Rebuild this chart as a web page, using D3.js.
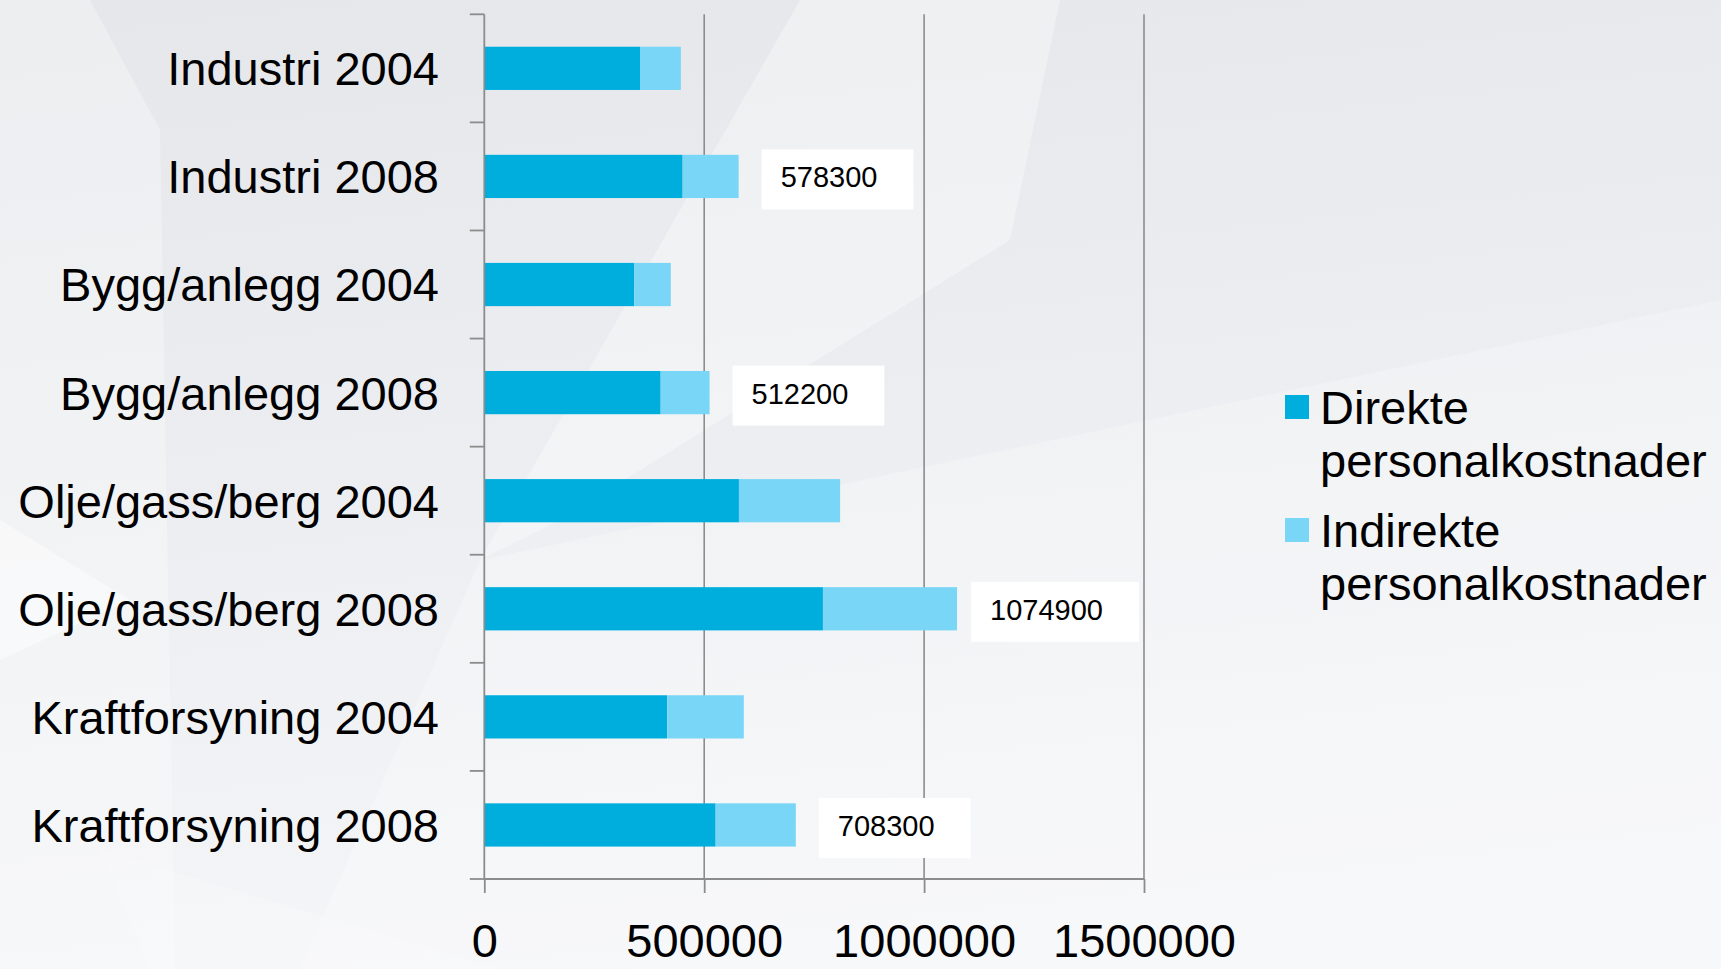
<!DOCTYPE html>
<html>
<head>
<meta charset="utf-8">
<script src="https://cdn.jsdelivr.net/npm/d3@7"></script>
<style>
  html, body { margin: 0; padding: 0; background: #eef0f2; overflow: hidden; }
  svg { display: block; font-family: "Liberation Sans", Arial, sans-serif; }
</style>
</head>
<body>
<svg id="chart" width="1721" height="969"></svg>
<script>
// ---- data ----
const categories = [
  "Industri 2004", "Industri 2008",
  "Bygg/anlegg 2004", "Bygg/anlegg 2008",
  "Olje/gass/berg 2004", "Olje/gass/berg 2008",
  "Kraftforsyning 2004", "Kraftforsyning 2008"
];
const direkte   = [354000, 451000, 341000, 401000, 579000, 770000, 416000, 526000];
const indirekte = [93000, 127300, 83000, 111200, 230000, 304900, 174000, 182300];
const labelled  = [false, true, false, true, false, true, false, true];
const seriesNames = ["Direkte personalkostnader", "Indirekte personalkostnader"];
const xTicks = [0, 500000, 1000000, 1500000];

// ---- setup ----
const W = 1721, H = 969;
const svg = d3.select("#chart");
const colors = ["#00aede", "#7ad6f6"];

// background
const defs = svg.append("defs");
const bg = defs.append("linearGradient").attr("id", "bg").attr("x1", 0.2).attr("y1", 0).attr("x2", 0.4).attr("y2", 1);
bg.append("stop").attr("offset", "0%").attr("stop-color", "#e5e7ea");
bg.append("stop").attr("offset", "50%").attr("stop-color", "#eceef1");
bg.append("stop").attr("offset", "100%").attr("stop-color", "#f5f6f8");
svg.append("rect").attr("width", W).attr("height", H).attr("fill", "url(#bg)");
const facets = [
  [[0,0],[90,0],[160,130],[175,969],[0,969]],
  [[800,0],[1060,0],[1010,240],[560,520],[480,560]],
  [[0,520],[130,600],[0,660]],
  [[480,560],[1721,300],[1721,969],[300,969]],
  [[100,850],[500,969],[150,969]]
];
const facetOp = [0.3, 0.35, 0.45, 0.25, 0.2];
svg.append("g").selectAll("polygon").data(facets).join("polygon")
  .attr("points", d => d.map(p => p.join(",")).join(" "))
  .attr("fill", "#ffffff")
  .attr("opacity", (d, i) => facetOp[i]);

// scales
const x = d3.scaleLinear().domain([0, 1500000]).range([484.3, 1144]);
const y = d3.scaleBand().domain(categories).range([14.3, 879]).paddingInner(0.6).paddingOuter(0.3);
const axisColor = "#8c8c8c";

// gridlines
svg.append("g").selectAll("line").data(xTicks.slice(1)).join("line")
  .attr("x1", d => x(d)).attr("x2", d => x(d))
  .attr("y1", y.range()[0]).attr("y2", y.range()[1])
  .attr("stroke", axisColor).attr("stroke-width", 1.6);

// bars
const stackData = categories.map((c, i) => ({cat: c, v: [direkte[i], indirekte[i]]}));
const barG = svg.append("g");
stackData.forEach(d => {
  let acc = 0;
  d.v.forEach((v, s) => {
    barG.append("rect")
      .attr("x", x(acc)).attr("width", x(acc + v) - x(acc))
      .attr("y", y(d.cat)).attr("height", y.bandwidth())
      .attr("fill", colors[s]);
    acc += v;
  });
});

// y axis line & boundary ticks
const yAx = svg.append("g");
yAx.append("line").attr("x1", x(0)).attr("x2", x(0)).attr("y1", y.range()[0]).attr("y2", y.range()[1])
  .attr("stroke", axisColor).attr("stroke-width", 1.8);
const bounds = d3.range(categories.length + 1).map(i => y.range()[0] + i * y.step());
yAx.selectAll("line.t").data(bounds).join("line").attr("class", "t")
  .attr("x1", x(0) - 14.5).attr("x2", x(0)).attr("y1", d => d).attr("y2", d => d)
  .attr("stroke", axisColor).attr("stroke-width", 1.8);
yAx.selectAll("text").data(categories).join("text")
  .attr("x", 439).attr("y", d => y(d) + y.bandwidth() / 2)
  .attr("dy", "0.36em").attr("text-anchor", "end")
  .attr("font-size", 47).attr("fill", "#000").text(d => d);

// x axis
const xAxis = d3.axisBottom(x).tickValues(xTicks).tickSize(14).tickFormat(d3.format("d"));
const xg = svg.append("g").attr("transform", `translate(0,${y.range()[1]})`).call(xAxis);
xg.select(".domain").attr("stroke", axisColor).attr("stroke-width", 1.8).attr("d", `M${x(0)},0H${x(1500000)}`);
xg.selectAll(".tick line").attr("stroke", axisColor).attr("stroke-width", 1.8);
xg.selectAll(".tick text").attr("y", 78).attr("dy", null)
  .attr("font-size", 47).attr("fill", "#000")
  .attr("font-family", "'Liberation Sans', Arial, sans-serif");

// value labels (2008 totals)
const lblG = svg.append("g");
stackData.forEach((d, i) => {
  if (!labelled[i]) return;
  const total = d.v[0] + d.v[1];
  const g = lblG.append("g");
  const t = g.append("text").attr("font-size", 29).attr("fill", "#000").text(d3.format("d")(total));
  const tw = t.node().getComputedTextLength();
  const bw = tw + 55, bh = 60;
  let bx = x(total) + 23;
  bx = Math.min(bx, x(1500000) - 5 - bw);
  const by = y(d.cat) + y.bandwidth() / 2 + 3 - bh / 2;
  g.insert("rect", "text").attr("x", bx).attr("y", by).attr("width", bw).attr("height", bh).attr("fill", "#ffffff");
  t.attr("x", bx + 19).attr("y", by + 38);
});

// legend
const leg = svg.append("g");
const legBase = [424, 547];
seriesNames.forEach((name, i) => {
  leg.append("rect").attr("x", 1285).attr("y", legBase[i] - 29).attr("width", 24).attr("height", 24).attr("fill", colors[i]);
  const words = name.split(" ");
  const t = leg.append("text").attr("font-size", 47).attr("fill", "#000");
  words.forEach((w, j) => {
    t.append("tspan").attr("x", 1320).attr("y", legBase[i] + j * 53).text(w);
  });
});
</script>
</body>
</html>
